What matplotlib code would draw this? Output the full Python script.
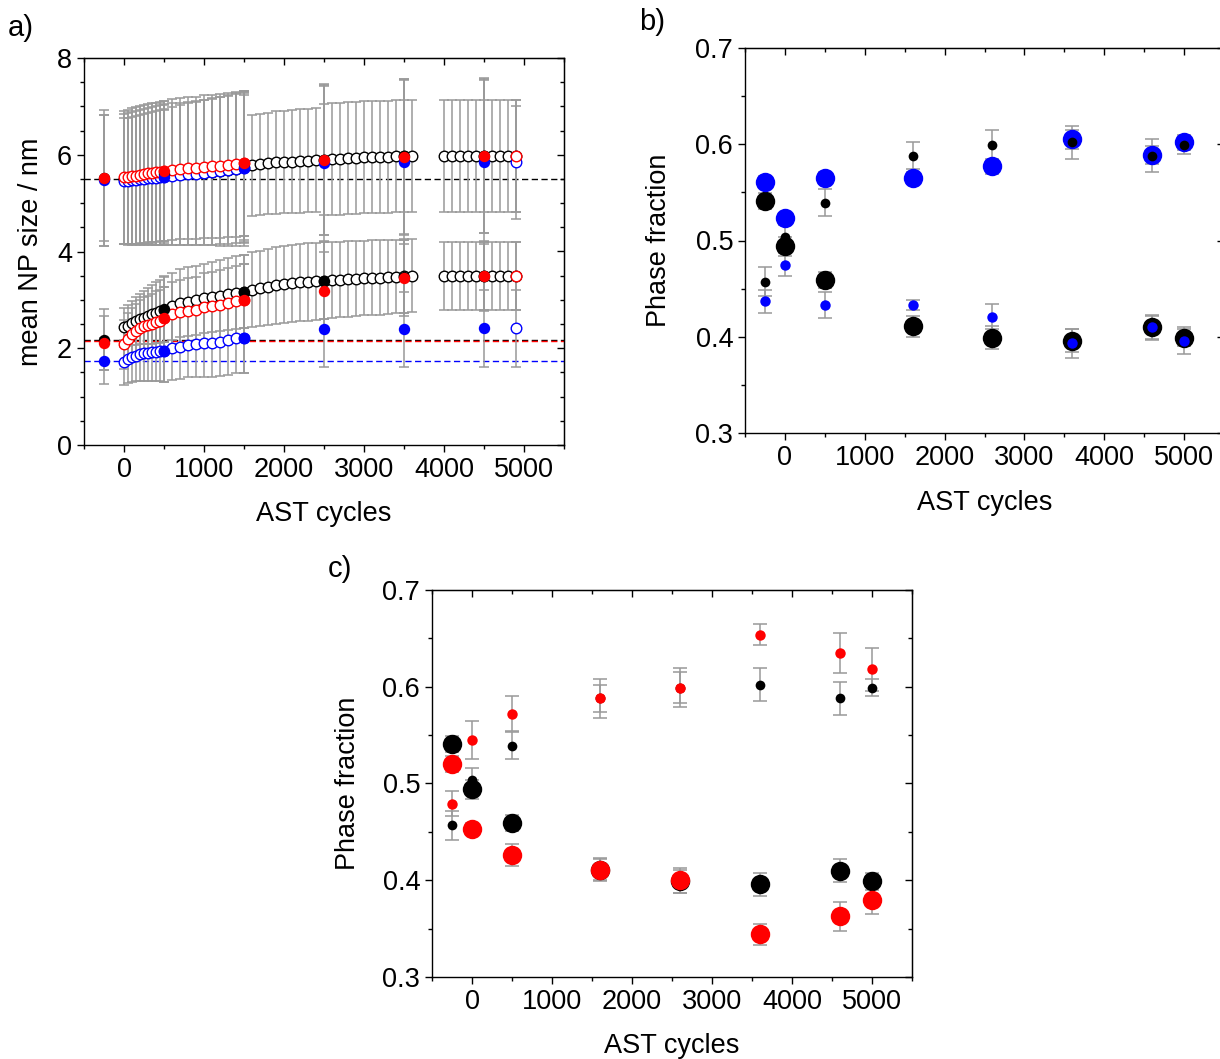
import matplotlib
matplotlib.use("Agg")
import matplotlib.pyplot as plt
from matplotlib.ticker import MultipleLocator

plt.rcParams['font.family'] = ['Liberation Sans', 'DejaVu Sans']
plt.rcParams['font.size'] = 19.5

# ---------------- panel a: mean NP size ----------------
x_model = [0, 50, 100, 150, 200, 250, 300, 350, 400, 450, 500,
           600, 700, 800, 900, 1000, 1100, 1200, 1300, 1400, 1500,
           1600, 1700, 1800, 1900, 2000, 2100, 2200, 2300, 2400, 2500,
           2600, 2700, 2800, 2900, 3000, 3100, 3200, 3300, 3400, 3500, 3600,
           4000, 4100, 4200, 4300, 4400, 4500, 4600, 4700, 4800, 4900]
black_up = [5.50, 5.50, 5.51, 5.52, 5.53, 5.54, 5.55, 5.56, 5.57, 5.58, 5.59,
            5.60, 5.61, 5.62, 5.62, 5.63, 5.65, 5.67, 5.69, 5.71, 5.74,
            5.78, 5.80, 5.82, 5.84, 5.85, 5.86, 5.87, 5.88, 5.89, 5.90,
            5.91, 5.92, 5.93, 5.94, 5.95, 5.95, 5.96, 5.96, 5.97, 5.97, 5.98,
            5.98, 5.98, 5.98, 5.98, 5.98, 5.98, 5.98, 5.98, 5.98, 5.98]
black_up_err = [1.35, 1.36, 1.37, 1.38, 1.39, 1.40, 1.41, 1.42, 1.43, 1.44, 1.45,
                1.46, 1.47, 1.48, 1.49, 1.50, 1.51, 1.52, 1.53, 1.54, 1.55,
                1.05, 1.05, 1.05, 1.06, 1.06, 1.06, 1.07, 1.07, 1.07, 1.15,
                1.16, 1.16, 1.16, 1.16, 1.16, 1.16, 1.16, 1.16, 1.16, 1.16, 1.16,
                1.16, 1.16, 1.16, 1.16, 1.16, 1.16, 1.16, 1.16, 1.16, 1.16]
black_lo = [2.43, 2.47, 2.52, 2.56, 2.60, 2.63, 2.67, 2.70, 2.73, 2.76, 2.80,
            2.87, 2.93, 2.96, 2.99, 3.03, 3.06, 3.09, 3.12, 3.15, 3.17,
            3.21, 3.24, 3.27, 3.30, 3.32, 3.34, 3.36, 3.37, 3.38, 3.40,
            3.41, 3.42, 3.43, 3.44, 3.45, 3.46, 3.46, 3.47, 3.48, 3.49, 3.50,
            3.50, 3.50, 3.50, 3.50, 3.50, 3.50, 3.50, 3.50, 3.50, 3.50]
black_lo_err = [0.40, 0.43, 0.46, 0.49, 0.52, 0.55, 0.58, 0.61, 0.63, 0.66, 0.68,
                0.69, 0.70, 0.71, 0.72, 0.72, 0.73, 0.74, 0.75, 0.75, 0.76,
                0.78, 0.78, 0.79, 0.79, 0.79, 0.80, 0.80, 0.80, 0.80, 0.80,
                0.78, 0.78, 0.78, 0.77, 0.77, 0.77, 0.77, 0.76, 0.76, 0.76, 0.75,
                0.70, 0.70, 0.70, 0.70, 0.70, 0.70, 0.70, 0.70, 0.70, 0.70]

x_model_rb = [0, 50, 100, 150, 200, 250, 300, 350, 400, 450, 500,
              600, 700, 800, 900, 1000, 1100, 1200, 1300, 1400, 1500, 4900]
red_up = [5.53, 5.54, 5.56, 5.57, 5.59, 5.60, 5.62, 5.63, 5.64, 5.65, 5.66,
          5.69, 5.71, 5.72, 5.73, 5.75, 5.76, 5.77, 5.78, 5.80, 5.82, 5.97]
red_up_err = [1.38, 1.39, 1.40, 1.41, 1.42, 1.42, 1.43, 1.43, 1.44, 1.44, 1.45,
              1.46, 1.46, 1.47, 1.47, 1.48, 1.48, 1.49, 1.49, 1.50, 1.50, 1.16]
red_lo = [2.08, 2.20, 2.30, 2.36, 2.41, 2.45, 2.48, 2.51, 2.55, 2.57, 2.62,
          2.70, 2.75, 2.77, 2.79, 2.85, 2.87, 2.90, 2.93, 2.97, 3.00, 3.50]
red_lo_err = [0.50, 0.52, 0.54, 0.56, 0.58, 0.60, 0.61, 0.62, 0.63, 0.64, 0.65,
              0.66, 0.67, 0.68, 0.69, 0.70, 0.71, 0.72, 0.73, 0.74, 0.75, 0.70]
blue_up = [5.46, 5.46, 5.47, 5.48, 5.49, 5.50, 5.51, 5.52, 5.52, 5.53, 5.54,
           5.56, 5.58, 5.60, 5.61, 5.63, 5.65, 5.66, 5.68, 5.70, 5.72, 5.84]
blue_up_err = [1.30, 1.31, 1.32, 1.33, 1.34, 1.35, 1.36, 1.37, 1.38, 1.39, 1.40,
               1.42, 1.44, 1.46, 1.48, 1.50, 1.52, 1.54, 1.56, 1.58, 1.60, 1.16]
blue_lo = [1.71, 1.78, 1.82, 1.85, 1.88, 1.90, 1.91, 1.92, 1.93, 1.94, 1.95,
           2.00, 2.03, 2.07, 2.09, 2.10, 2.11, 2.13, 2.17, 2.21, 2.22, 2.41]
blue_lo_err = [0.47, 0.49, 0.51, 0.53, 0.55, 0.57, 0.59, 0.60, 0.61, 0.62, 0.64,
               0.65, 0.66, 0.67, 0.68, 0.69, 0.70, 0.71, 0.72, 0.72, 0.73, 0.80]

x_meas = [-250, 500, 1500, 2500, 3500, 4500]
black_meas_up = [5.52, 5.60, 5.74, 5.90, 5.97, 5.98]
black_meas_up_err = [1.40, 1.42, 1.50, 1.55, 1.60, 1.60]
red_meas_up = [5.52, 5.66, 5.82, 5.90, 5.95, 5.97]
red_meas_up_err = [1.30, 1.45, 1.50, 1.56, 1.60, 1.58]
blue_meas_up = [5.47, 5.53, 5.72, 5.82, 5.86, 5.86]
blue_meas_up_err = [1.35, 1.40, 1.55, 1.60, 1.70, 1.70]
black_meas_lo = [2.18, 2.81, 3.17, 3.40, 3.48, 3.50]
black_meas_lo_err = [0.63, 0.68, 0.76, 0.80, 0.76, 0.70]
red_meas_lo = [2.11, 2.62, 3.00, 3.19, 3.45, 3.50]
red_meas_lo_err = [0.55, 0.65, 0.75, 0.80, 0.78, 0.72]
blue_meas_lo = [1.74, 1.94, 2.21, 2.39, 2.39, 2.41]
blue_meas_lo_err = [0.48, 0.64, 0.73, 0.78, 0.78, 0.80]

# initial sizes (dashed reference lines)
black_ref = [5.50, 2.18]
red_ref = [2.14]
blue_ref = [1.74]

# ---------------- panels b, c: phase fractions ----------------
x_phase = [-250, 0, 500, 1600, 2600, 3600, 4600, 5000]
black_big = [0.541, 0.494, 0.459, 0.411, 0.399, 0.396, 0.410, 0.399]
black_big_err = [0.008, 0.010, 0.008, 0.011, 0.012, 0.012, 0.012, 0.009]
black_small = [0.457, 0.504, 0.539, 0.588, 0.599, 0.602, 0.588, 0.599]
black_small_err = [0.015, 0.012, 0.014, 0.014, 0.016, 0.017, 0.017, 0.009]
blue_big = [0.561, 0.523, 0.565, 0.565, 0.577, 0.605, 0.589, 0.602]
blue_big_err = [0.006, 0.006, 0.006, 0.006, 0.008, 0.010, 0.009, 0.008]
blue_small = [0.437, 0.475, 0.433, 0.433, 0.421, 0.393, 0.410, 0.396]
blue_small_err = [0.012, 0.012, 0.013, 0.005, 0.013, 0.015, 0.013, 0.014]
red_big = [0.520, 0.453, 0.426, 0.411, 0.400, 0.344, 0.363, 0.380]
red_big_err = [0.008, 0.006, 0.011, 0.012, 0.013, 0.011, 0.015, 0.015]
red_small = [0.479, 0.545, 0.572, 0.588, 0.599, 0.654, 0.635, 0.618]
red_small_err = [0.013, 0.020, 0.018, 0.020, 0.020, 0.011, 0.021, 0.022]

BLUE = '#0000ff'
RED = '#ff0000'
GREY = '#999999'
W, H = 1220, 1059


def add_axes(fig, left, top, right, bottom):
    """Axes placed by pixel edges of the reference image."""
    return fig.add_axes([left / W, 1 - bottom / H, (right - left) / W, (bottom - top) / H])


def style_axes(ax, ylim, ymaj, ymin):
    ax.set_xlim(-500, 5500)
    ax.set_ylim(*ylim)
    ax.set_xticks([0, 1000, 2000, 3000, 4000, 5000])
    ax.xaxis.set_minor_locator(MultipleLocator(500))
    ax.yaxis.set_major_locator(MultipleLocator(ymaj))
    ax.yaxis.set_minor_locator(MultipleLocator(ymin))
    ax.tick_params(which='both', direction='out', width=1, labelsize=19.5)
    ax.tick_params(which='major', length=5)
    ax.tick_params(which='minor', length=3)
    for sp in ax.spines.values():
        sp.set_linewidth(1)
    # mirrored ticks pointing inwards on top and right
    top = ax.secondary_xaxis('top')
    top.set_xticks([0, 1000, 2000, 3000, 4000, 5000])
    top.xaxis.set_minor_locator(MultipleLocator(500))
    top.tick_params(which='both', direction='in', labeltop=False, width=1)
    top.tick_params(which='major', length=5)
    top.tick_params(which='minor', length=3)
    right = ax.secondary_yaxis('right')
    right.yaxis.set_major_locator(MultipleLocator(ymaj))
    right.yaxis.set_minor_locator(MultipleLocator(ymin))
    right.tick_params(which='both', direction='in', labelright=False, width=1)
    right.tick_params(which='major', length=5)
    right.tick_params(which='minor', length=3)


def errbars(ax, x, y, err, cap):
    ax.errorbar(x, y, yerr=err, fmt='none', ecolor=GREY, elinewidth=1.1,
                capsize=cap, capthick=1.1, zorder=1)


fig = plt.figure(figsize=(W / 100, H / 100), dpi=100)

# ---- a) ----
ax_a = add_axes(fig, 84, 58, 564, 445)
style_axes(ax_a, (0, 8), 2, 0.5)

for y in black_ref:
    ax_a.axhline(y, color='black', lw=1, ls=(0, (4.5, 2.5)), zorder=0.5)
for y in red_ref:
    ax_a.axhline(y, color=RED, lw=1, ls=(0, (4.5, 2.5)), zorder=0.5)
for y in blue_ref:
    ax_a.axhline(y, color=BLUE, lw=1, ls=(0, (4.5, 2.5)), zorder=0.5)

for yy, ee in [(black_up, black_up_err), (black_lo, black_lo_err)]:
    errbars(ax_a, x_model, yy, ee, 3.5)
for yy, ee in [(red_up, red_up_err), (red_lo, red_lo_err),
               (blue_up, blue_up_err), (blue_lo, blue_lo_err)]:
    errbars(ax_a, x_model_rb, yy, ee, 3.5)
for yy, ee in [(black_meas_up, black_meas_up_err), (black_meas_lo, black_meas_lo_err),
               (red_meas_up, red_meas_up_err), (red_meas_lo, red_meas_lo_err),
               (blue_meas_up, blue_meas_up_err), (blue_meas_lo, blue_meas_lo_err)]:
    errbars(ax_a, x_meas, yy, ee, 3.5)

open_kw = dict(ls='none', marker='o', ms=7.6, mfc='white', mew=1)
for yy in (black_up, black_lo):
    ax_a.plot(x_model, yy, mec='black', zorder=3, **open_kw)
for yy in (blue_up, blue_lo):
    ax_a.plot(x_model_rb, yy, mec=BLUE, zorder=3.5, **open_kw)
for yy in (red_up, red_lo):
    ax_a.plot(x_model_rb, yy, mec=RED, zorder=4, **open_kw)

fill_kw = dict(ls='none', marker='o', ms=8.2, mew=0)
ax_a.plot(x_meas, black_meas_up, color='black', zorder=5, **fill_kw)
ax_a.plot(x_meas, black_meas_lo, color='black', zorder=5, **fill_kw)
ax_a.plot(x_meas, blue_meas_up, color=BLUE, zorder=5.5, **fill_kw)
ax_a.plot(x_meas, blue_meas_lo, color=BLUE, zorder=5.5, **fill_kw)
ax_a.plot(x_meas, red_meas_up, color=RED, zorder=6, **fill_kw)
ax_a.plot(x_meas, red_meas_lo, color=RED, zorder=6, **fill_kw)

ax_a.set_xlabel('AST cycles', fontsize=19.5)
ax_a.set_ylabel('mean NP size / nm', fontsize=19.5)
ax_a.xaxis.set_label_coords(0.5, -0.145)
ax_a.yaxis.set_label_coords(-0.083, 0.5)


def phase_panel(ax, series):
    style_axes(ax, (0.3, 0.7), 0.1, 0.05)
    for x, y, e, color, ms, z in series:
        errbars(ax, x, y, e, 5)
    for x, y, e, color, ms, z in series:
        ax.plot(x, y, ls='none', marker='o', ms=ms, color=color, mew=0, zorder=z)
    ax.set_xlabel('AST cycles', fontsize=19.5)
    ax.set_ylabel('Phase fraction', fontsize=19.5)


# ---- b) ----
ax_b = add_axes(fig, 745, 48, 1224, 433)
phase_panel(ax_b, [
    (x_phase, black_big, black_big_err, 'black', 14, 3),
    (x_phase, blue_big, blue_big_err, BLUE, 14, 3.5),
    (x_phase, blue_small, blue_small_err, BLUE, 7.5, 4),
    (x_phase, black_small, black_small_err, 'black', 7, 4.5),
])
ax_b.xaxis.set_label_coords(0.5, -0.147)
ax_b.yaxis.set_label_coords(-0.153, 0.5)

# ---- c) ----
ax_c = add_axes(fig, 432, 590, 912, 977)
phase_panel(ax_c, [
    (x_phase, black_big, black_big_err, 'black', 14, 3),
    (x_phase, black_small, black_small_err, 'black', 7, 3.2),
    (x_phase, red_big, red_big_err, RED, 14, 3.5),
    (x_phase, red_small, red_small_err, RED, 7.5, 4),
])
ax_c.xaxis.set_label_coords(0.5, -0.145)
ax_c.yaxis.set_label_coords(-0.148, 0.5)

fig.text(8 / W, 1 - 28 / H, 'a)', fontsize=21, ha='left', va='center')
fig.text(639 / W, 1 - 22 / H, 'b)', fontsize=21, ha='left', va='center')
fig.text(328 / W, 1 - 569 / H, 'c)', fontsize=21, ha='left', va='center')

fig.savefig('out.png', dpi=100)
